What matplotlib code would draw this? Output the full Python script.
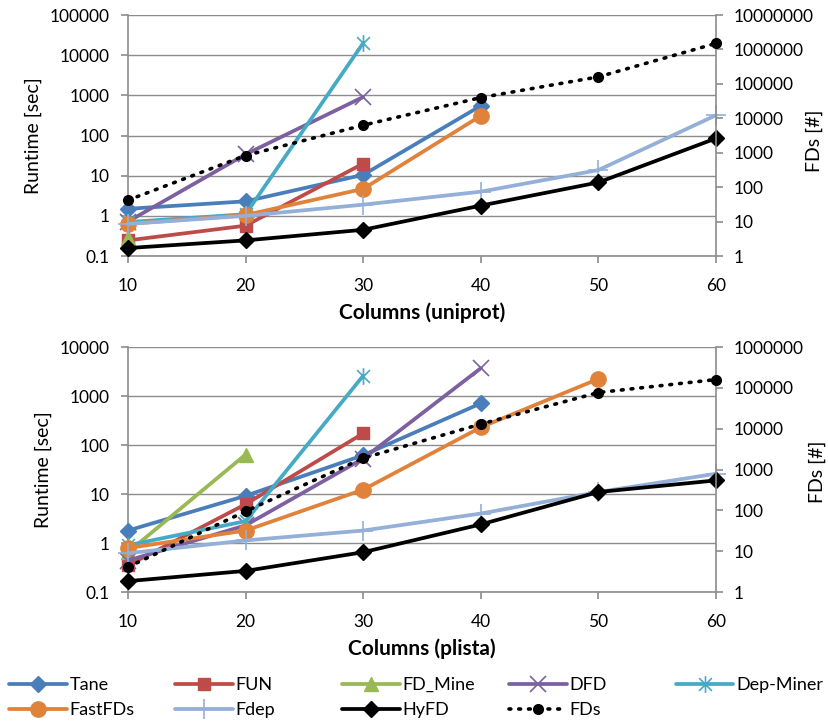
import matplotlib
matplotlib.use('Agg')
import matplotlib.pyplot as plt
from matplotlib.path import Path

plt.rcParams['font.family'] = ['Lato', 'DejaVu Sans']

# x values (number of columns)
columns = [10, 20, 30, 40, 50, 60]

# runtimes [sec], uniprot
tane_uniprot = [1.5, 2.3, 10.5, 550]
fun_uniprot = [0.245, 0.57, 20]
fdmine_uniprot = [0.28]
dfd_uniprot = [0.72, 34, 910]
depminer_uniprot = [0.7, 1.1, 20000]
fastfds_uniprot = [0.63, 1.05, 4.7, 310]
fdep_uniprot = [0.63, 1.0, 1.9, 4.0, 13.8, 320]
hyfd_uniprot = [0.158, 0.245, 0.45, 1.8, 6.8, 85]
# number of FDs, uniprot
fds_uniprot = [42, 830, 6300, 40000, 160000, 1500000]

# runtimes [sec], plista
tane_plista = [1.8, 9.2, 62, 710]
fun_plista = [0.35, 6.2, 173]
fdmine_plista = [0.65, 64]
dfd_plista = [0.44, 2.3, 53, 3700]
depminer_plista = [0.9, 2.8, 2600]
fastfds_plista = [0.79, 1.8, 12.3, 230, 2240]
fdep_plista = [0.62, 1.13, 1.8, 4.0, 11, 26]
hyfd_plista = [0.167, 0.27, 0.65, 2.4, 11, 19]
# number of FDs, plista
fds_plista = [4.1, 95, 1900, 13000, 77000, 160000]

names = ['Tane', 'FUN', 'FD_Mine', 'DFD', 'Dep-Miner', 'FastFDs', 'Fdep', 'HyFD']

# excel style star marker: x plus vertical bar
star = Path([(-1, -1), (1, 1), (-1, 1), (1, -1), (0, -1.3), (0, 1.3)],
            [Path.MOVETO, Path.LINETO, Path.MOVETO, Path.LINETO, Path.MOVETO, Path.LINETO])

styles = {
    'Tane': dict(color='#4A7EBB', marker='D', ms=8),
    'FUN': dict(color='#BE4B48', marker='s', ms=9),
    'FD_Mine': dict(color='#98B954', marker='^', ms=10),
    'DFD': dict(color='#7D60A0', marker='x', ms=11, mew=1.2),
    'Dep-Miner': dict(color='#46AAC5', marker=star, ms=12, mew=1.2),
    'FastFDs': dict(color='#E0823A', marker='o', ms=11),
    'Fdep': dict(color='#94AFD8', marker='+', ms=14, mew=1.2),
    'HyFD': dict(color='black', marker='D', ms=8),
}

grid_color = '#8C8C8C'
fs = 12.5


def draw_panel(ax, series, fds, ymax, y2max, xlabel, y2label_pos):
    for name, vals in zip(names, series):
        st = styles[name]
        ax.plot(columns[:len(vals)], vals, lw=2.7, clip_on=False, zorder=3,
                solid_capstyle='round', **st)
    ax.set_yscale('log')
    ax.set_ylim(0.1, ymax)
    ax.set_xlim(10, 60)
    ax.set_xticks(columns)
    ax.set_xticklabels([str(c) for c in columns])
    yt = [10.0 ** k for k in range(-1, len(str(int(ymax))))]
    ax.set_yticks(yt)
    ax.set_yticklabels(['0.1'] + [str(int(v)) for v in yt[1:]])
    ax.minorticks_off()
    ax.grid(axis='y', color=grid_color, lw=1)
    ax.set_axisbelow(True)
    for s in ['top', 'right']:
        ax.spines[s].set_visible(False)
    for s in ['left', 'bottom']:
        ax.spines[s].set_color(grid_color)
        ax.spines[s].set_linewidth(1.2)
    ax.tick_params(axis='both', colors=grid_color, labelcolor='black',
                   labelsize=fs, length=5, width=1.2, pad=8)
    ax.tick_params(axis='x', pad=11)
    ax.set_ylabel('Runtime [sec]', fontsize=14, labelpad=6)
    ax.set_xlabel(xlabel, fontsize=15, fontweight='bold', labelpad=6)

    ax2 = ax.twinx()
    fd_line, = ax2.plot(columns, fds, color='black', lw=2.6, ls=(0, (0.5, 2.2)),
                        dash_capstyle='round', marker='o', ms=7, clip_on=False,
                        zorder=4)
    ax2.set_yscale('log')
    ax2.set_ylim(1, y2max)
    yt2 = [10 ** k for k in range(0, len(str(int(y2max))))]
    ax2.set_yticks(yt2)
    ax2.set_yticklabels([str(v) for v in yt2])
    ax2.minorticks_off()
    for s in ['top', 'left', 'bottom']:
        ax2.spines[s].set_visible(False)
    ax2.spines['right'].set_color(grid_color)
    ax2.spines['right'].set_linewidth(1.2)
    ax2.tick_params(axis='y', colors=grid_color, labelcolor='black',
                    labelsize=fs, length=5, width=1.2, pad=8)
    ax2.set_ylabel('FDs [#]', fontsize=14, va='center')
    ax2.yaxis.set_label_coords(*y2label_pos)
    return fd_line


fig = plt.figure(figsize=(8.29, 7.22), dpi=100)
ax_top = fig.add_axes([0.1544, 0.6454, 0.7093, 0.3338])
ax_bot = fig.add_axes([0.1544, 0.18, 0.7093, 0.3393])

draw_panel(ax_top,
           [tane_uniprot, fun_uniprot, fdmine_uniprot, dfd_uniprot, depminer_uniprot,
            fastfds_uniprot, fdep_uniprot, hyfd_uniprot],
           fds_uniprot, 1e5, 1e7, 'Columns (uniprot)', (1.168, 0.477))
fd_line = draw_panel(ax_bot,
                     [tane_plista, fun_plista, fdmine_plista, dfd_plista, depminer_plista,
                      fastfds_plista, fdep_plista, hyfd_plista],
                     fds_plista, 1e4, 1e6, 'Columns (plista)', (1.172, 0.49))

handles = list(ax_bot.get_lines()) + [fd_line]
labels = names + ['FDs']

# legend laid out like excel: fixed column positions, 2 rows
col_x = [0.011, 0.211, 0.4125, 0.614, 0.815]
order = [[0, 5], [1, 6], [2, 7], [3, 8], [4]]
for x, idx in zip(col_x, order):
    fig.legend([handles[i] for i in idx], [labels[i] for i in idx],
               loc='upper left', bbox_to_anchor=(x, 0.062), frameon=False,
               fontsize=13, handlelength=3.2, handletextpad=0.15,
               borderpad=0, borderaxespad=0, labelspacing=0.5)

fig.savefig('out.png', dpi=100)
